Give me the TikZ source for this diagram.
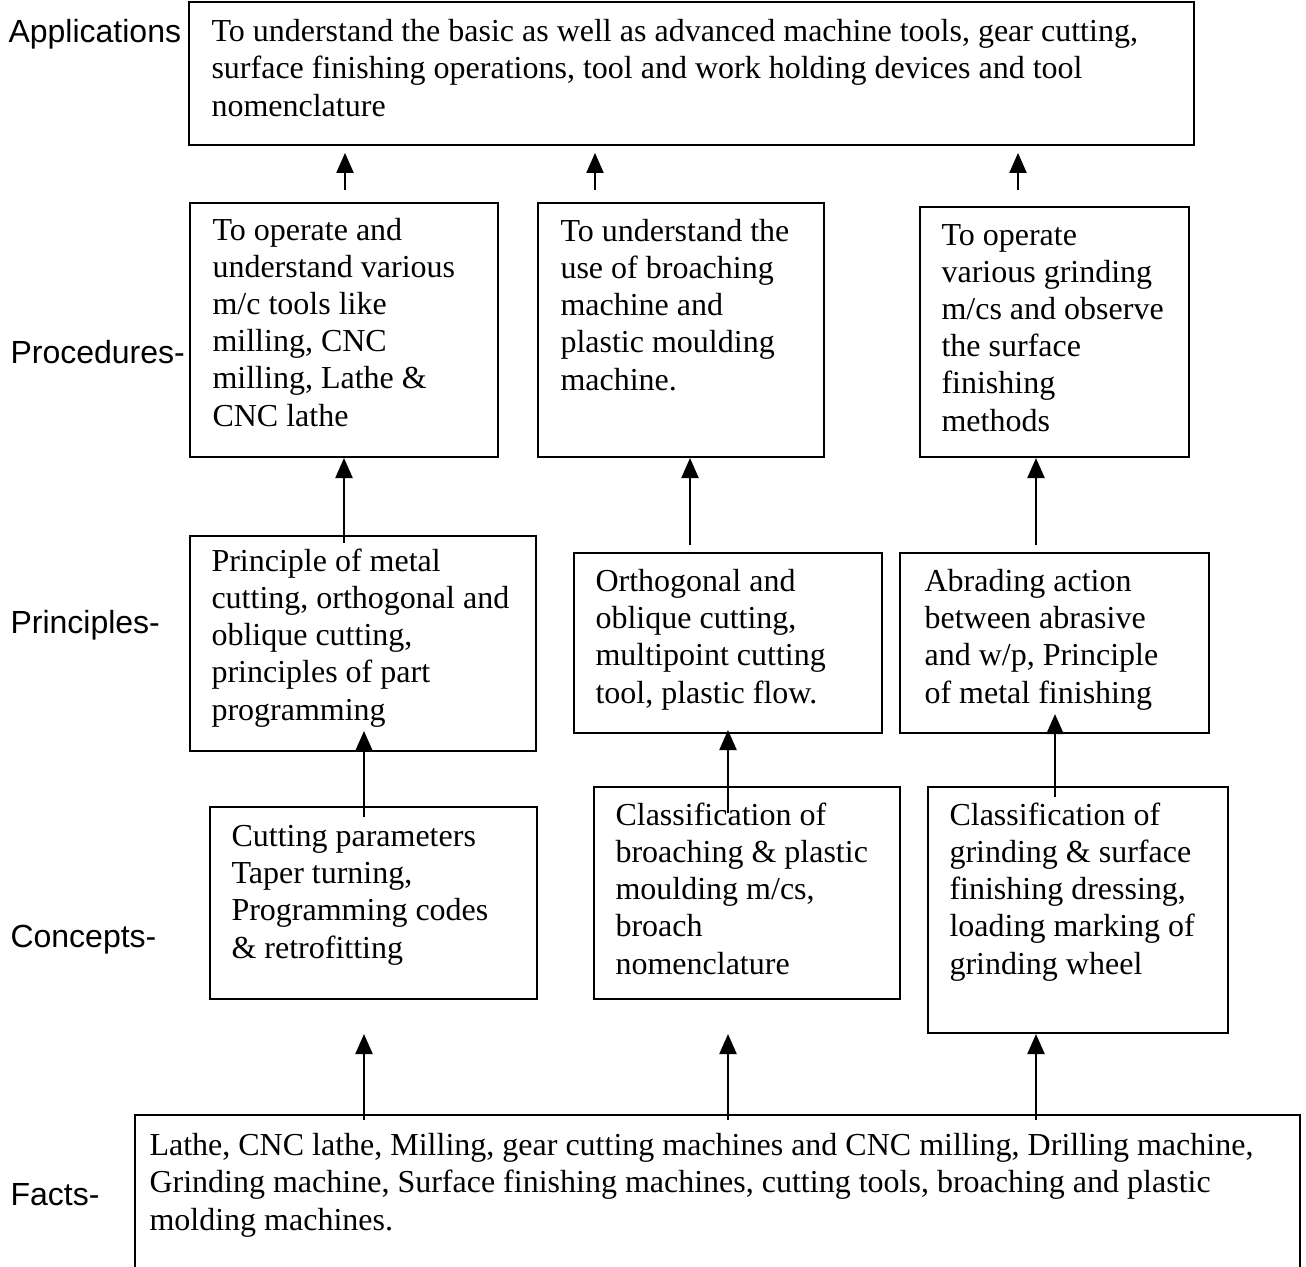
\documentclass[tikz,border=0pt]{standalone}
\usepackage{fontspec}
\setmainfont{Liberation Serif}
\newfontfamily\levelfont{Liberation Sans}
\usetikzlibrary{arrows.meta,fit}

\tikzset{
  box/.style={draw, line width=0.75pt, inner sep=0pt},
  txt/.style={anchor=base west, align=left, inner sep=0pt, font=\fontsize{12pt}{13.9pt}\selectfont},
  lvl/.style={anchor=base west, inner sep=0pt, font=\levelfont\fontsize{12pt}{14pt}\selectfont},
  up/.style={-{Triangle[length=7.5pt,width=6.4pt]}, line width=0.75pt},
}

\begin{document}
\begin{tikzpicture}[x=0.375pt, y=-0.375pt]
\clip (0,0) rectangle (1306,1266);
% --- levels
\node[lvl] (l-app) at (8,42) {Applications};
\node[lvl] (l-proc) at (10,363) {Procedures-};
\node[lvl] (l-prin) at (10,633) {Principles-};
\node[lvl] (l-conc) at (10,947) {Concepts-};
\node[lvl] (l-fact) at (10,1205) {Facts-};
% --- boxes
\node[box, fit={(189,2) (1194,145)}] (apps) {};
\node[box, fit={(190,203) (498,457)}] (proc1) {};
\node[box, fit={(538,203) (824,457)}] (proc2) {};
\node[box, fit={(920,207) (1189,457)}] (proc3) {};
\node[box, fit={(190,536) (536,751)}] (prin1) {};
\node[box, fit={(574,553) (882,733)}] (prin2) {};
\node[box, fit={(900,553) (1209,733)}] (prin3) {};
\node[box, fit={(210,807) (537,999)}] (conc1) {};
\node[box, fit={(594,787) (900,999)}] (conc2) {};
\node[box, fit={(928,787) (1228,1033)}] (conc3) {};
\node[box, fit={(135,1115) (1300,1300)}] (facts) {};
% --- texts (anchored at the baseline of their last line)
\node[txt] (apps-t) at (211,116) {To understand the basic as well as advanced machine tools, gear cutting,\\ surface finishing operations, tool and work holding devices and tool\\ nomenclature};
\node[txt] (proc1-t) at (212,426) {To operate and\\ understand various\\ m/c tools like\\ milling, CNC\\ milling, Lathe \&\\ CNC lathe};
\node[txt] (proc2-t) at (560,390) {To understand the\\ use of broaching\\ machine and\\ plastic moulding\\ machine.};
\node[txt] (proc3-t) at (941,431) {To operate\\ various grinding\\ m/cs and observe\\ the surface\\ finishing\\ methods};
\node[txt] (prin1-t) at (211,720) {Principle of metal\\ cutting, orthogonal and\\ oblique cutting,\\ principles of part\\ programming};
\node[txt] (prin2-t) at (595,703) {Orthogonal and\\ oblique cutting,\\ multipoint cutting\\ tool, plastic flow.};
\node[txt] (prin3-t) at (924,703) {Abrading action\\ between abrasive\\ and w/p, Principle\\ of metal finishing};
\node[txt] (conc1-t) at (231,958) {Cutting parameters\\ Taper turning,\\ Programming codes\\ \& retrofitting};
\node[txt] (conc2-t) at (615,974) {Classification of\\ broaching \& plastic\\ moulding m/cs,\\ broach\\ nomenclature};
\node[txt] (conc3-t) at (949,974) {Classification of\\ grinding \& surface\\ finishing dressing,\\ loading marking of\\ grinding wheel};
\node[txt] (facts-t) at (149,1230) {Lathe, CNC lathe, Milling, gear cutting machines and CNC milling, Drilling machine,\\ Grinding machine, Surface finishing machines, cutting tools, broaching and plastic\\ molding machines.};
% --- arrows
\foreach \x [count=\i] in {345,595,1018}
  \draw[up, shorten >=2.6pt] (\x,190) coordinate (ta\i) -- (ta\i |- apps.south);
\coordinate (pa2) at (690,545);
\coordinate (pa3) at (1036,545);
\draw[up] ([yshift=-3pt]prin1.north -| proc1.south) -- (proc1.south);
\draw[up] (pa2) -- (pa2 |- proc2.south);
\draw[up] (pa3) -- (pa3 |- proc3.south);
\coordinate (ca1) at (364,817);
\coordinate (ca2) at (728,813);
\coordinate (ca3) at (1055,797);
\draw[up, shorten >=-7.9pt] (ca1) -- (ca1 |- prin1.south);
\draw[up, shorten >=-1.5pt] (ca2) -- (ca2 |- prin2.south);
\draw[up, shorten >=-7.5pt] (ca3) -- (ca3 |- prin3.south);
\foreach \x [count=\i] in {364,728,1036}
  \draw[up] (\x,1120) coordinate (fa\i) -- (fa\i |- conc3.south);
\end{tikzpicture}
\end{document}
